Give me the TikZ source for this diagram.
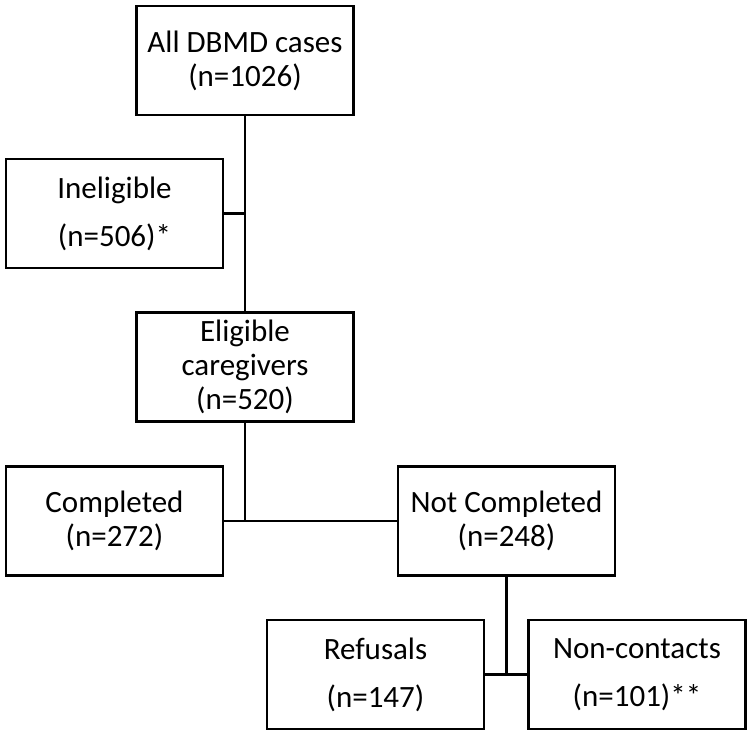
\documentclass[tikz,border=0pt]{standalone}
\usepackage{fontspec}
\setmainfont{Carlito}
\newcommand*{\BoxWidth}{217pt}
\newcommand*{\BoxHeight}{109pt}
\tikzset{
  stage/.style={draw, line width=2.8pt, minimum width=\BoxWidth, minimum height=\BoxHeight,
    align=center, inner sep=0pt, font=\fontsize{31}{34}\selectfont},
  widestage/.style={stage, font=\fontsize{31}{48}\selectfont},
  link/.style={line width=2.8pt}
}

\begin{document}
\begin{tikzpicture}[x=1pt,y=-1pt]
        \useasboundingbox (0,0) rectangle (752,736);
        % boxes
        \node[stage]     (all)  at (245,60.5)   {All DBMD cases\\(n=1026)};
        \node[widestage] (inel) at (114.5,213.5) {Ineligible\\(n=506)*};
        \node[stage]     (elig) at (245,367)    {Eligible\\caregivers\\(n=520)};
        \node[stage]     (comp) at (114.5,521)  {Completed\\(n=272)};
        \node[stage]     (notc) at (506.5,521)  {Not Completed\\(n=248)};
        \node[widestage] (ref)  at (375.5,674.5) {Refusals\\(n=147)};
        \node[widestage] (nonc) at (637,674.5)  {Non-contacts\\(n=101)**};
        % connectors
        \coordinate (jinel) at (all.south |- inel.east);
        \coordinate (jcomp) at (elig.south |- comp.east);
        \coordinate (jref)  at (notc.south |- ref.east);
        \draw[link] (all.south) -- (elig.north);
        \draw[link] (inel.east) -- (jinel);
        \draw[link] (elig.south) -- (jcomp);
        \draw[link] (comp.east) -- (notc.west);
        \draw[link] (notc.south) -- (jref);
        \draw[link] (ref.east) -- (nonc.west);
    \end{tikzpicture}
\end{document}
